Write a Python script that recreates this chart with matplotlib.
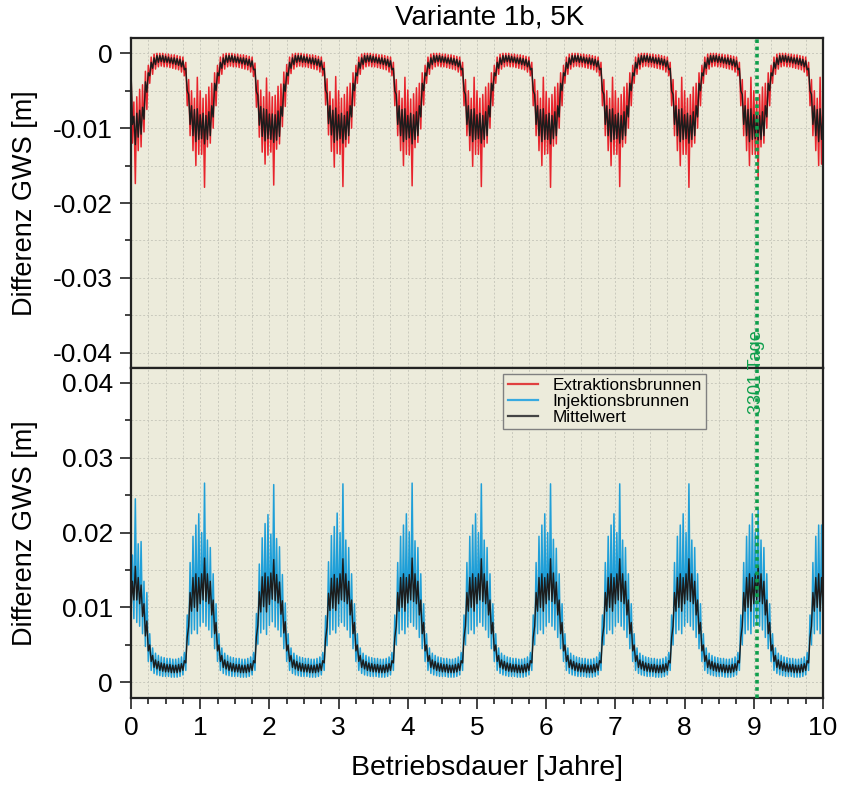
"""Variante 1b, 5K: Differenz GWS ueber die Betriebsdauer (Extraktion / Injektion)."""

import numpy as np
import matplotlib
matplotlib.use("Agg")
import matplotlib.pyplot as plt
from matplotlib.lines import Line2D
from matplotlib.ticker import FuncFormatter, MultipleLocator
import matplotlib.transforms as mtransforms

plt.rcParams["font.family"] = ["Liberation Sans", "DejaVu Sans"]

WERTE_PRO_JAHR = 48
MARKER_TAGE = 3301

# Werte in mm, vier Zeilen je Betriebsjahr, letzter Wert = Ende Jahr 10
extraktion_mm = [
    # Jahr 0
    -2.2, -12.0, -6.5, -17.4, -5.8, -13.0, -4.8, -12.5, -4.2, -10.5, -2.4, -7.5,
    -1.6, -4.0, -0.5, -2.8, -0.1, -2.1, 0.0, -1.8, 0.0, -1.7, 0.0, -1.8,
    -0.1, -1.8, -0.1, -1.9, -0.2, -2.0, -0.2, -2.1, -0.3, -2.2, -0.4, -2.5,
    -0.5, -3.0, -1.2, -7.0, -3.5, -11.0, -5.0, -13.0, -6.0, -15.0, -3.2, -13.5,
    # Jahr 1
    -5.0, -13.5, -6.0, -17.9, -5.5, -12.5, -4.5, -12.0, -4.0, -10.0, -2.6, -7.0,
    -1.6, -4.0, -0.5, -2.8, -0.1, -2.1, 0.0, -1.8, 0.0, -1.7, 0.0, -1.8,
    -0.1, -1.8, -0.1, -1.9, -0.2, -2.0, -0.2, -2.1, -0.3, -2.2, -0.4, -2.5,
    -0.5, -3.1, -1.3, -7.2, -3.6, -11.2, -4.9, -13.2, -5.8, -14.8, -3.3, -13.6,
    # Jahr 2
    -5.2, -13.2, -5.8, -17.6, -5.6, -12.8, -4.4, -12.1, -4.1, -9.8, -2.5, -7.1,
    -1.5, -4.1, -0.5, -2.7, -0.1, -2.1, 0.0, -1.8, 0.0, -1.7, 0.0, -1.8,
    -0.1, -1.8, -0.1, -1.9, -0.2, -2.0, -0.2, -2.1, -0.3, -2.2, -0.4, -2.5,
    -0.5, -3.0, -1.2, -6.9, -3.4, -10.9, -5.1, -13.1, -6.1, -15.2, -3.1, -13.4,
    # Jahr 3
    -5.0, -13.5, -6.0, -17.8, -5.5, -12.5, -4.5, -12.0, -4.0, -10.0, -2.6, -7.0,
    -1.6, -4.0, -0.5, -2.8, -0.1, -2.1, 0.0, -1.8, 0.0, -1.7, 0.0, -1.8,
    -0.1, -1.8, -0.1, -1.9, -0.2, -2.0, -0.2, -2.1, -0.3, -2.2, -0.4, -2.5,
    -0.5, -3.0, -1.2, -7.0, -3.5, -11.0, -5.0, -13.0, -6.0, -15.0, -3.2, -13.5,
    # Jahr 4
    -4.9, -13.6, -6.1, -17.7, -5.4, -12.6, -4.6, -11.9, -4.0, -10.1, -2.6, -6.9,
    -1.6, -4.0, -0.5, -2.8, -0.1, -2.1, 0.0, -1.8, 0.0, -1.7, 0.0, -1.8,
    -0.1, -1.8, -0.1, -1.9, -0.2, -2.0, -0.2, -2.1, -0.3, -2.2, -0.4, -2.5,
    -0.5, -3.0, -1.2, -7.0, -3.5, -11.0, -5.0, -13.0, -6.0, -15.1, -3.2, -13.5,
    # Jahr 5
    -5.0, -13.5, -6.0, -17.8, -5.5, -12.5, -4.5, -12.0, -4.0, -10.0, -2.6, -7.0,
    -1.6, -4.0, -0.5, -2.8, -0.1, -2.1, 0.0, -1.8, 0.0, -1.7, 0.0, -1.8,
    -0.1, -1.8, -0.1, -1.9, -0.2, -2.0, -0.2, -2.1, -0.3, -2.2, -0.4, -2.5,
    -0.5, -3.0, -1.2, -7.0, -3.5, -11.0, -5.0, -13.0, -6.0, -15.0, -3.2, -13.5,
    # Jahr 6
    -5.1, -13.4, -6.0, -17.9, -5.5, -12.4, -4.5, -12.1, -4.0, -10.0, -2.6, -7.0,
    -1.6, -4.0, -0.5, -2.8, -0.1, -2.1, 0.0, -1.8, 0.0, -1.7, 0.0, -1.8,
    -0.1, -1.8, -0.1, -1.9, -0.2, -2.0, -0.2, -2.1, -0.3, -2.2, -0.4, -2.5,
    -0.5, -3.0, -1.2, -7.0, -3.5, -11.0, -5.0, -13.0, -6.0, -15.0, -3.2, -13.5,
    # Jahr 7
    -5.0, -13.5, -6.0, -17.8, -5.5, -12.5, -4.5, -12.0, -4.0, -10.0, -2.6, -7.0,
    -1.6, -4.0, -0.5, -2.8, -0.1, -2.1, 0.0, -1.8, 0.0, -1.7, 0.0, -1.8,
    -0.1, -1.8, -0.1, -1.9, -0.2, -2.0, -0.2, -2.1, -0.3, -2.2, -0.4, -2.5,
    -0.5, -3.0, -1.2, -7.0, -3.5, -11.0, -5.0, -13.0, -6.0, -15.0, -3.2, -13.5,
    # Jahr 8
    -5.0, -13.5, -6.0, -17.9, -5.5, -12.5, -4.5, -12.0, -4.0, -10.0, -2.6, -7.0,
    -1.6, -4.0, -0.5, -2.8, -0.1, -2.1, 0.0, -1.8, 0.0, -1.7, 0.0, -1.8,
    -0.1, -1.8, -0.1, -1.9, -0.2, -2.0, -0.2, -2.1, -0.3, -2.2, -0.4, -2.5,
    -0.5, -3.0, -1.2, -7.0, -3.5, -11.0, -5.0, -13.0, -6.0, -15.0, -3.2, -13.5,
    # Jahr 9
    -5.0, -13.5, -6.0, -16.8, -5.5, -12.5, -4.5, -12.0, -4.0, -10.0, -2.6, -7.0,
    -1.6, -4.0, -0.5, -2.8, -0.1, -2.1, 0.0, -1.8, 0.0, -1.7, 0.0, -1.8,
    -0.1, -1.8, -0.1, -1.9, -0.2, -2.0, -0.2, -2.1, -0.3, -2.2, -0.4, -2.5,
    -0.5, -3.0, -1.2, -7.0, -3.5, -11.0, -5.0, -13.0, -6.0, -15.0, -3.2, -14.8,
    # Ende Jahr 10
    -6.0,
]

mittel_extraktion_mm = [
    # Jahr 0
    -2.0, -9.5, -8.4, -12.2, -8.0, -11.2, -7.6, -10.8, -7.2, -8.8, -3.8, -5.2,
    -2.6, -3.0, -1.2, -2.0, -0.6, -1.5, -0.3, -1.2, -0.3, -1.1, -0.3, -1.2,
    -0.4, -1.2, -0.5, -1.3, -0.6, -1.4, -0.6, -1.5, -0.7, -1.6, -0.8, -1.8,
    -1.0, -2.2, -2.0, -5.0, -5.5, -9.5, -7.0, -11.0, -7.5, -11.8, -7.4, -11.5,
    # Jahr 1
    -8.2, -11.4, -8.0, -12.1, -8.3, -11.5, -7.8, -11.0, -7.0, -8.5, -4.0, -5.0,
    -2.6, -3.0, -1.2, -2.0, -0.6, -1.5, -0.3, -1.2, -0.3, -1.1, -0.3, -1.2,
    -0.4, -1.2, -0.5, -1.3, -0.6, -1.4, -0.6, -1.5, -0.7, -1.6, -0.8, -1.8,
    -1.0, -2.2, -2.1, -5.1, -5.6, -9.6, -7.1, -11.1, -7.4, -11.7, -7.5, -11.4,
    # Jahr 2
    -8.1, -11.5, -8.1, -11.9, -8.2, -11.6, -7.7, -11.1, -7.1, -8.4, -4.1, -5.1,
    -2.6, -3.0, -1.2, -2.0, -0.6, -1.5, -0.3, -1.2, -0.3, -1.1, -0.3, -1.2,
    -0.4, -1.2, -0.5, -1.3, -0.6, -1.4, -0.6, -1.5, -0.7, -1.6, -0.8, -1.8,
    -1.0, -2.2, -2.0, -4.9, -5.4, -9.4, -7.0, -10.9, -7.6, -11.9, -7.3, -11.6,
    # Jahr 3
    -8.2, -11.4, -8.0, -12.0, -8.3, -11.5, -7.8, -11.0, -7.0, -8.5, -4.0, -5.0,
    -2.6, -3.0, -1.2, -2.0, -0.6, -1.5, -0.3, -1.2, -0.3, -1.1, -0.3, -1.2,
    -0.4, -1.2, -0.5, -1.3, -0.6, -1.4, -0.6, -1.5, -0.7, -1.6, -0.8, -1.8,
    -1.0, -2.2, -2.0, -5.0, -5.5, -9.5, -7.0, -11.0, -7.5, -11.8, -7.4, -11.5,
    # Jahr 4
    -8.3, -11.3, -8.0, -12.1, -8.2, -11.5, -7.8, -11.0, -7.0, -8.5, -4.0, -5.0,
    -2.6, -3.0, -1.2, -2.0, -0.6, -1.5, -0.3, -1.2, -0.3, -1.1, -0.3, -1.2,
    -0.4, -1.2, -0.5, -1.3, -0.6, -1.4, -0.6, -1.5, -0.7, -1.6, -0.8, -1.8,
    -1.0, -2.2, -2.0, -5.0, -5.5, -9.5, -7.0, -11.0, -7.5, -11.8, -7.4, -11.5,
    # Jahr 5
    -8.2, -11.4, -8.0, -12.0, -8.3, -11.5, -7.8, -11.0, -7.0, -8.5, -4.0, -5.0,
    -2.6, -3.0, -1.2, -2.0, -0.6, -1.5, -0.3, -1.2, -0.3, -1.1, -0.3, -1.2,
    -0.4, -1.2, -0.5, -1.3, -0.6, -1.4, -0.6, -1.5, -0.7, -1.6, -0.8, -1.8,
    -1.0, -2.2, -2.0, -5.0, -5.5, -9.5, -7.0, -11.0, -7.5, -11.8, -7.4, -11.5,
    # Jahr 6
    -8.2, -11.5, -8.0, -12.1, -8.3, -11.4, -7.8, -11.0, -7.0, -8.5, -4.0, -5.0,
    -2.6, -3.0, -1.2, -2.0, -0.6, -1.5, -0.3, -1.2, -0.3, -1.1, -0.3, -1.2,
    -0.4, -1.2, -0.5, -1.3, -0.6, -1.4, -0.6, -1.5, -0.7, -1.6, -0.8, -1.8,
    -1.0, -2.2, -2.0, -5.0, -5.5, -9.5, -7.0, -11.0, -7.5, -11.8, -7.4, -11.5,
    # Jahr 7
    -8.2, -11.4, -8.0, -12.0, -8.3, -11.5, -7.8, -11.0, -7.0, -8.5, -4.0, -5.0,
    -2.6, -3.0, -1.2, -2.0, -0.6, -1.5, -0.3, -1.2, -0.3, -1.1, -0.3, -1.2,
    -0.4, -1.2, -0.5, -1.3, -0.6, -1.4, -0.6, -1.5, -0.7, -1.6, -0.8, -1.8,
    -1.0, -2.2, -2.0, -5.0, -5.5, -9.5, -7.0, -11.0, -7.5, -11.8, -7.4, -11.5,
    # Jahr 8
    -8.2, -11.4, -8.0, -12.0, -8.3, -11.5, -7.8, -11.0, -7.0, -8.5, -4.0, -5.0,
    -2.6, -3.0, -1.2, -2.0, -0.6, -1.5, -0.3, -1.2, -0.3, -1.1, -0.3, -1.2,
    -0.4, -1.2, -0.5, -1.3, -0.6, -1.4, -0.6, -1.5, -0.7, -1.6, -0.8, -1.8,
    -1.0, -2.2, -2.0, -5.0, -5.5, -9.5, -7.0, -11.0, -7.5, -11.8, -7.4, -11.5,
    # Jahr 9
    -8.2, -11.4, -8.0, -11.6, -8.3, -11.5, -7.8, -11.0, -7.0, -8.5, -4.0, -5.0,
    -2.6, -3.0, -1.2, -2.0, -0.6, -1.5, -0.3, -1.2, -0.3, -1.1, -0.3, -1.2,
    -0.4, -1.2, -0.5, -1.3, -0.6, -1.4, -0.6, -1.5, -0.7, -1.6, -0.8, -1.8,
    -1.0, -2.2, -2.0, -5.0, -5.5, -9.5, -7.0, -11.0, -7.5, -11.8, -7.4, -11.5,
    # Ende Jahr 10
    -8.5,
]

injektion_mm = [
    # Jahr 0
    10.0, 17.0, 8.5, 24.5, 8.0, 18.5, 7.5, 18.8, 6.5, 13.5, 4.8, 12.0,
    2.8, 6.5, 1.6, 4.6, 1.2, 3.9, 1.0, 3.6, 0.9, 3.4, 0.8, 3.3,
    0.8, 3.2, 0.8, 3.2, 0.7, 3.1, 0.7, 3.1, 0.7, 3.2, 0.8, 3.4,
    1.0, 4.0, 1.6, 9.0, 5.0, 16.0, 6.5, 19.5, 7.0, 21.0, 6.5, 22.5,
    # Jahr 1
    7.5, 20.0, 8.0, 26.6, 7.5, 19.0, 7.0, 18.0, 6.0, 14.5, 4.5, 10.5,
    2.8, 6.5, 1.6, 4.6, 1.2, 3.9, 1.0, 3.6, 0.9, 3.4, 0.8, 3.3,
    0.8, 3.2, 0.8, 3.2, 0.7, 3.1, 0.7, 3.1, 0.7, 3.2, 0.8, 3.4,
    1.0, 4.0, 1.6, 9.2, 5.1, 15.8, 6.6, 19.3, 7.1, 21.2, 6.4, 22.4,
    # Jahr 2
    7.6, 19.8, 8.1, 26.4, 7.4, 19.2, 7.0, 18.1, 6.1, 14.4, 4.5, 10.6,
    2.8, 6.5, 1.6, 4.6, 1.2, 3.9, 1.0, 3.6, 0.9, 3.4, 0.8, 3.3,
    0.8, 3.2, 0.8, 3.2, 0.7, 3.1, 0.7, 3.1, 0.7, 3.2, 0.8, 3.4,
    1.0, 4.0, 1.6, 8.9, 4.9, 16.1, 6.4, 19.6, 7.0, 20.8, 6.6, 22.6,
    # Jahr 3
    7.5, 20.0, 8.0, 26.5, 7.5, 19.0, 7.0, 18.0, 6.0, 14.5, 4.5, 10.5,
    2.8, 6.5, 1.6, 4.6, 1.2, 3.9, 1.0, 3.6, 0.9, 3.4, 0.8, 3.3,
    0.8, 3.2, 0.8, 3.2, 0.7, 3.1, 0.7, 3.1, 0.7, 3.2, 0.8, 3.4,
    1.0, 4.0, 1.6, 9.0, 5.0, 16.0, 6.5, 19.5, 7.0, 21.0, 6.5, 22.5,
    # Jahr 4
    7.4, 20.1, 8.0, 26.6, 7.5, 18.9, 7.1, 18.0, 6.0, 14.5, 4.5, 10.5,
    2.8, 6.5, 1.6, 4.6, 1.2, 3.9, 1.0, 3.6, 0.9, 3.4, 0.8, 3.3,
    0.8, 3.2, 0.8, 3.2, 0.7, 3.1, 0.7, 3.1, 0.7, 3.2, 0.8, 3.4,
    1.0, 4.0, 1.6, 9.0, 5.0, 16.0, 6.5, 19.5, 7.0, 21.0, 6.5, 22.5,
    # Jahr 5
    7.5, 20.0, 8.0, 26.5, 7.5, 19.0, 7.0, 18.0, 6.0, 14.5, 4.5, 10.5,
    2.8, 6.5, 1.6, 4.6, 1.2, 3.9, 1.0, 3.6, 0.9, 3.4, 0.8, 3.3,
    0.8, 3.2, 0.8, 3.2, 0.7, 3.1, 0.7, 3.1, 0.7, 3.2, 0.8, 3.4,
    1.0, 4.0, 1.6, 9.0, 5.0, 16.0, 6.5, 19.5, 7.0, 21.0, 6.5, 22.5,
    # Jahr 6
    7.5, 20.0, 8.0, 26.5, 7.5, 19.1, 7.0, 17.9, 6.0, 14.5, 4.5, 10.5,
    2.8, 6.5, 1.6, 4.6, 1.2, 3.9, 1.0, 3.6, 0.9, 3.4, 0.8, 3.3,
    0.8, 3.2, 0.8, 3.2, 0.7, 3.1, 0.7, 3.1, 0.7, 3.2, 0.8, 3.4,
    1.0, 4.0, 1.6, 9.0, 5.0, 16.0, 6.5, 19.5, 7.0, 21.0, 6.5, 22.5,
    # Jahr 7
    7.5, 20.0, 8.0, 26.5, 7.5, 19.0, 7.0, 18.0, 6.0, 14.5, 4.5, 10.5,
    2.8, 6.5, 1.6, 4.6, 1.2, 3.9, 1.0, 3.6, 0.9, 3.4, 0.8, 3.3,
    0.8, 3.2, 0.8, 3.2, 0.7, 3.1, 0.7, 3.1, 0.7, 3.2, 0.8, 3.4,
    1.0, 4.0, 1.6, 9.0, 5.0, 16.0, 6.5, 19.5, 7.0, 21.0, 6.5, 22.5,
    # Jahr 8
    7.5, 20.0, 8.0, 26.5, 7.5, 19.0, 7.0, 18.0, 6.0, 14.5, 4.5, 10.5,
    2.8, 6.5, 1.6, 4.6, 1.2, 3.9, 1.0, 3.6, 0.9, 3.4, 0.8, 3.3,
    0.8, 3.2, 0.8, 3.2, 0.7, 3.1, 0.7, 3.1, 0.7, 3.2, 0.8, 3.4,
    1.0, 4.0, 1.6, 9.0, 5.0, 16.0, 6.5, 19.5, 7.0, 21.0, 6.5, 22.5,
    # Jahr 9
    7.5, 20.0, 8.0, 23.0, 7.5, 19.0, 7.0, 18.0, 6.0, 14.5, 4.5, 10.5,
    2.8, 6.5, 1.6, 4.6, 1.2, 3.9, 1.0, 3.6, 0.9, 3.4, 0.8, 3.3,
    0.8, 3.2, 0.8, 3.2, 0.7, 3.1, 0.7, 3.1, 0.7, 3.2, 0.8, 3.4,
    1.0, 4.0, 1.6, 9.0, 5.0, 16.0, 6.5, 19.5, 7.0, 21.0, 6.5, 21.0,
    # Ende Jahr 10
    7.5,
]

mittel_injektion_mm = [
    # Jahr 0
    9.5, 13.5, 11.0, 15.5, 11.0, 14.0, 10.5, 13.0, 8.8, 10.5, 6.2, 8.2,
    4.2, 5.0, 2.8, 3.6, 2.0, 3.0, 1.8, 2.8, 1.6, 2.6, 1.5, 2.5,
    1.4, 2.4, 1.4, 2.4, 1.3, 2.3, 1.3, 2.3, 1.3, 2.4, 1.4, 2.5,
    1.6, 2.9, 2.6, 6.0, 7.5, 12.0, 9.5, 14.0, 10.0, 14.5, 9.5, 14.0,
    # Jahr 1
    10.5, 14.5, 11.0, 16.6, 10.8, 14.5, 10.5, 13.5, 9.0, 11.0, 6.5, 8.0,
    4.2, 5.0, 2.8, 3.6, 2.0, 3.0, 1.8, 2.8, 1.6, 2.6, 1.5, 2.5,
    1.4, 2.4, 1.4, 2.4, 1.3, 2.3, 1.3, 2.3, 1.3, 2.4, 1.4, 2.5,
    1.6, 2.9, 2.6, 6.1, 7.6, 12.1, 9.4, 14.1, 10.1, 14.6, 9.4, 14.1,
    # Jahr 2
    10.4, 14.6, 11.1, 16.4, 10.9, 14.4, 10.6, 13.4, 9.1, 10.9, 6.6, 8.1,
    4.2, 5.0, 2.8, 3.6, 2.0, 3.0, 1.8, 2.8, 1.6, 2.6, 1.5, 2.5,
    1.4, 2.4, 1.4, 2.4, 1.3, 2.3, 1.3, 2.3, 1.3, 2.4, 1.4, 2.5,
    1.6, 2.9, 2.6, 5.9, 7.4, 11.9, 9.6, 13.9, 9.9, 14.4, 9.6, 13.9,
    # Jahr 3
    10.5, 14.5, 11.0, 16.5, 10.8, 14.5, 10.5, 13.5, 9.0, 11.0, 6.5, 8.0,
    4.2, 5.0, 2.8, 3.6, 2.0, 3.0, 1.8, 2.8, 1.6, 2.6, 1.5, 2.5,
    1.4, 2.4, 1.4, 2.4, 1.3, 2.3, 1.3, 2.3, 1.3, 2.4, 1.4, 2.5,
    1.6, 2.9, 2.6, 6.0, 7.5, 12.0, 9.5, 14.0, 10.0, 14.5, 9.5, 14.0,
    # Jahr 4
    10.6, 14.4, 11.0, 16.6, 10.8, 14.5, 10.5, 13.5, 9.0, 11.0, 6.5, 8.0,
    4.2, 5.0, 2.8, 3.6, 2.0, 3.0, 1.8, 2.8, 1.6, 2.6, 1.5, 2.5,
    1.4, 2.4, 1.4, 2.4, 1.3, 2.3, 1.3, 2.3, 1.3, 2.4, 1.4, 2.5,
    1.6, 2.9, 2.6, 6.0, 7.5, 12.0, 9.5, 14.0, 10.0, 14.5, 9.5, 14.0,
    # Jahr 5
    10.5, 14.5, 11.0, 16.5, 10.8, 14.5, 10.5, 13.5, 9.0, 11.0, 6.5, 8.0,
    4.2, 5.0, 2.8, 3.6, 2.0, 3.0, 1.8, 2.8, 1.6, 2.6, 1.5, 2.5,
    1.4, 2.4, 1.4, 2.4, 1.3, 2.3, 1.3, 2.3, 1.3, 2.4, 1.4, 2.5,
    1.6, 2.9, 2.6, 6.0, 7.5, 12.0, 9.5, 14.0, 10.0, 14.5, 9.5, 14.0,
    # Jahr 6
    10.5, 14.5, 11.0, 16.5, 10.8, 14.6, 10.5, 13.4, 9.0, 11.0, 6.5, 8.0,
    4.2, 5.0, 2.8, 3.6, 2.0, 3.0, 1.8, 2.8, 1.6, 2.6, 1.5, 2.5,
    1.4, 2.4, 1.4, 2.4, 1.3, 2.3, 1.3, 2.3, 1.3, 2.4, 1.4, 2.5,
    1.6, 2.9, 2.6, 6.0, 7.5, 12.0, 9.5, 14.0, 10.0, 14.5, 9.5, 14.0,
    # Jahr 7
    10.5, 14.5, 11.0, 16.5, 10.8, 14.5, 10.5, 13.5, 9.0, 11.0, 6.5, 8.0,
    4.2, 5.0, 2.8, 3.6, 2.0, 3.0, 1.8, 2.8, 1.6, 2.6, 1.5, 2.5,
    1.4, 2.4, 1.4, 2.4, 1.3, 2.3, 1.3, 2.3, 1.3, 2.4, 1.4, 2.5,
    1.6, 2.9, 2.6, 6.0, 7.5, 12.0, 9.5, 14.0, 10.0, 14.5, 9.5, 14.0,
    # Jahr 8
    10.5, 14.5, 11.0, 16.5, 10.8, 14.5, 10.5, 13.5, 9.0, 11.0, 6.5, 8.0,
    4.2, 5.0, 2.8, 3.6, 2.0, 3.0, 1.8, 2.8, 1.6, 2.6, 1.5, 2.5,
    1.4, 2.4, 1.4, 2.4, 1.3, 2.3, 1.3, 2.3, 1.3, 2.4, 1.4, 2.5,
    1.6, 2.9, 2.6, 6.0, 7.5, 12.0, 9.5, 14.0, 10.0, 14.5, 9.5, 14.0,
    # Jahr 9
    10.5, 14.5, 11.0, 15.5, 10.8, 14.5, 10.5, 13.5, 9.0, 11.0, 6.5, 8.0,
    4.2, 5.0, 2.8, 3.6, 2.0, 3.0, 1.8, 2.8, 1.6, 2.6, 1.5, 2.5,
    1.4, 2.4, 1.4, 2.4, 1.3, 2.3, 1.3, 2.3, 1.3, 2.4, 1.4, 2.5,
    1.6, 2.9, 2.6, 6.0, 7.5, 12.0, 9.5, 14.0, 10.0, 14.5, 9.5, 14.0,
    # Ende Jahr 10
    10.5,
]

FARBE_EXTRAKTION = "#e8242c"
FARBE_INJEKTION = "#1f9fd8"
FARBE_MITTEL = "#1c1c1c"
FARBE_MARKER = "#0e9e4c"
FARBE_HINTERGRUND = "#ecebdb"

W, H = 842, 785


def _zeit_jahre(werte):
    return np.arange(len(werte)) / WERTE_PRO_JAHR


def _m(werte_mm):
    return np.asarray(werte_mm, dtype=float) / 1000.0


def _achse_formatieren(ax, ylim, yticks):
    ax.set_facecolor(FARBE_HINTERGRUND)
    ax.set_xlim(0, 10)
    ax.set_ylim(*ylim)
    ax.set_yticks(yticks)
    ax.yaxis.set_minor_locator(MultipleLocator(0.005))
    ax.xaxis.set_major_locator(MultipleLocator(1))
    ax.xaxis.set_minor_locator(MultipleLocator(0.25))
    ax.yaxis.set_major_formatter(FuncFormatter(lambda v, _: "0" if abs(v) < 1e-9 else f"{v:.2f}"))
    ax.set_axisbelow(True)
    ax.grid(True, which="both", color="#c9c9bd", linestyle=(0, (2.0, 2.0)), linewidth=0.7)
    for spine in ax.spines.values():
        spine.set_linewidth(1.6)
        spine.set_color("#222222")
    ax.tick_params(which="major", direction="out", length=8, width=1.2, labelsize=19, pad=5, color="#222222")
    ax.tick_params(which="minor", direction="out", length=4.5, width=1.2, color="#222222")
    ax.set_ylabel("Differenz GWS [m]", fontsize=19.5)
    ax.yaxis.set_label_coords(-0.134, 0.5)


fig = plt.figure(figsize=(W / 100, H / 100), dpi=100)
ax_oben = fig.add_axes([131 / W, 1 - 368 / H, 692 / W, 330 / H])
ax_unten = fig.add_axes([131 / W, 1 - 698 / H, 692 / W, 330 / H])

_achse_formatieren(ax_oben, (-0.04204, 0.00205), [-0.04, -0.03, -0.02, -0.01, 0.0])
_achse_formatieren(ax_unten, (-0.00208, 0.04196), [0.0, 0.01, 0.02, 0.03, 0.04])
ax_oben.tick_params(axis="x", which="both", bottom=False, labelbottom=False)

ax_oben.plot(_zeit_jahre(extraktion_mm), _m(extraktion_mm), color=FARBE_EXTRAKTION, linewidth=1.1, zorder=2)
ax_oben.plot(_zeit_jahre(mittel_extraktion_mm), _m(mittel_extraktion_mm), color=FARBE_MITTEL, linewidth=1.0, zorder=3)
ax_unten.plot(_zeit_jahre(injektion_mm), _m(injektion_mm), color=FARBE_INJEKTION, linewidth=1.1, zorder=2)
ax_unten.plot(_zeit_jahre(mittel_injektion_mm), _m(mittel_injektion_mm), color=FARBE_MITTEL, linewidth=1.0, zorder=3)

x_marker = MARKER_TAGE / 365.0
for ax in (ax_oben, ax_unten):
    ax.axvline(x_marker, color=FARBE_MARKER, linestyle=(0, (1, 1)), linewidth=2.6, zorder=5)

trans = mtransforms.blended_transform_factory(ax_unten.transData, ax_unten.transAxes)
ax_unten.text(x_marker, 0.988, f"{MARKER_TAGE} Tage", transform=trans, rotation=90,
              ha="center", va="center", color=FARBE_MARKER, fontsize=13, clip_on=False, zorder=10)

handles = [
    Line2D([], [], color="#e04040", linewidth=1.6),
    Line2D([], [], color="#38aae0", linewidth=1.6),
    Line2D([], [], color="#444444", linewidth=1.6),
]
leg = ax_unten.legend(handles, ["Extraktionsbrunnen", "Injektionsbrunnen", "Mittelwert"],
                      loc="upper left", bbox_to_anchor=(0.538, 0.982), fontsize=12.4,
                      frameon=True, fancybox=False, borderpad=0.25, labelspacing=0.05,
                      handlelength=1.75, handletextpad=0.85, borderaxespad=0.0)
leg.get_frame().set_edgecolor("#808080")
leg.get_frame().set_linewidth(1.0)
leg.get_frame().set_facecolor(FARBE_HINTERGRUND)
leg.get_frame().set_alpha(1.0)

ax_unten.set_xlabel("Betriebsdauer [Jahre]", fontsize=20.5)
ax_unten.xaxis.set_label_coords(0.514, -0.173)
ax_unten.xaxis.label.set_va("top")

fig.text(490 / W, 1 - 18 / H, "Variante 1b, 5K", ha="center", va="center", fontsize=20)

fig.savefig("out.png", dpi=100, facecolor="white")
plt.close(fig)
